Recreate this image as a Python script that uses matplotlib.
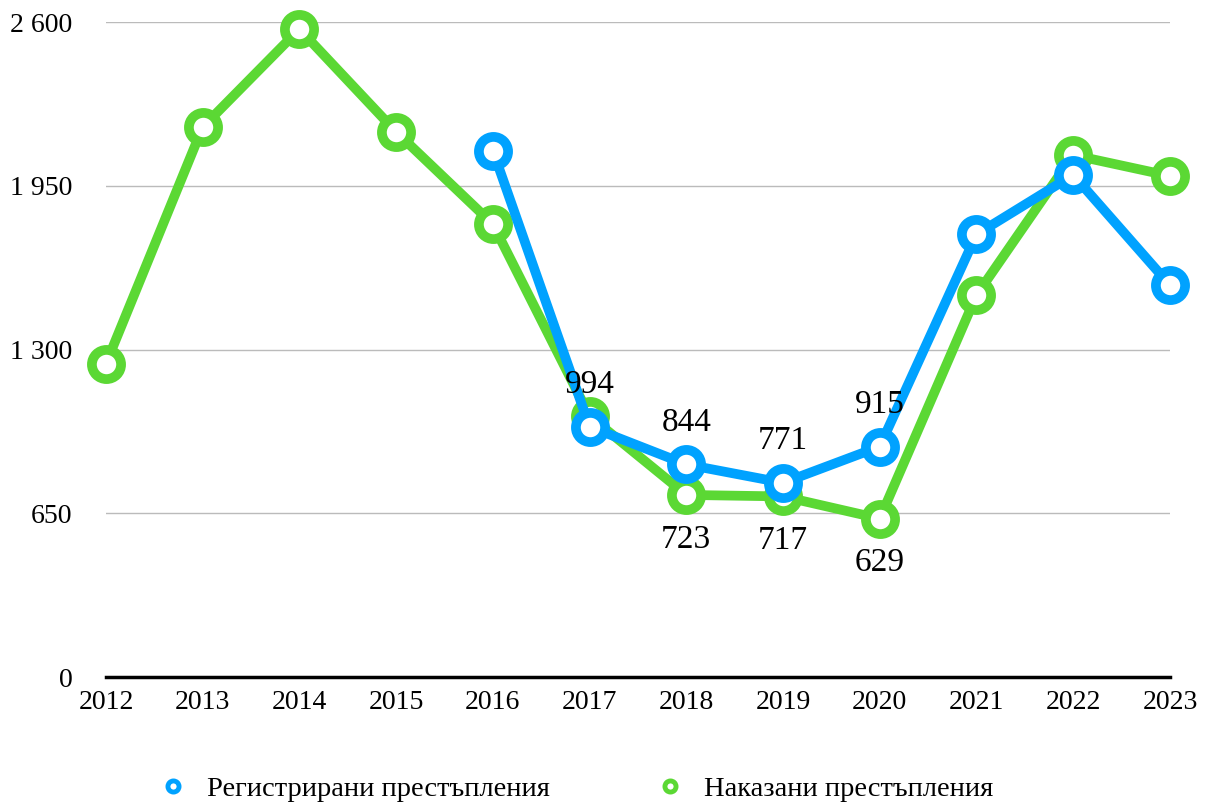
import matplotlib.pyplot as plt
from matplotlib.lines import Line2D

years = [2012, 2013, 2014, 2015, 2016, 2017, 2018, 2019, 2020, 2021, 2022, 2023]
reg_years = [2016, 2017, 2018, 2019, 2020, 2021, 2022, 2023]
registered = [2090, 994, 844, 771, 915, 1757, 1993, 1556]
punished = [1243, 2183, 2572, 2164, 1798, 1036, 723, 717, 629, 1516, 2072, 1989]
reg_label_years = [2017, 2018, 2019, 2020]
pun_label_years = [2018, 2019, 2020]
yticks = [0, 650, 1300, 1950, 2600]

blue = '#00A2FF'
green = '#5BD834'

plt.rcParams['font.family'] = ['Liberation Serif', 'DejaVu Serif']

fig = plt.figure(figsize=(12.08, 8.07), dpi=100)
ax = fig.add_axes([0.0877, 0.161, 0.8808, 0.8117])

style = dict(lw=7, marker='o', ms=21, mew=7, mfc='white', clip_on=False,
             solid_joinstyle='round')
ax.plot(years, punished, color=green, mec=green, zorder=3, **style)
ax.plot(reg_years, registered, color=blue, mec=blue, zorder=4, **style)

# data labels
for x, v in zip(reg_years, registered):
    if x in reg_label_years:
        ax.annotate(str(v), (x, v), xytext=(0, 30), textcoords='offset points',
                    ha='center', va='center', fontsize=24, zorder=5)
for x, v in zip(years, punished):
    if x in pun_label_years:
        ax.annotate(str(v), (x, v), xytext=(0, -32), textcoords='offset points',
                    ha='center', va='center', fontsize=24, zorder=5)

ax.set_xlim(2012, 2023)
ax.set_ylim(0, 2600)
ax.set_yticks(yticks)
ax.set_yticklabels([f'{t:,}'.replace(',', ' ') for t in yticks])
ax.set_xticks(years)
ax.set_xticklabels([str(y) for y in years])
ax.grid(axis='y', color='#BBBBBB', lw=1)
ax.set_axisbelow(True)
for s in ['top', 'right', 'left']:
    ax.spines[s].set_visible(False)
ax.spines['bottom'].set_linewidth(2.5)
ax.spines['bottom'].set_color('black')
ax.tick_params(axis='y', length=0, pad=24, labelsize=20)
ax.tick_params(axis='x', length=0, pad=9, labelsize=20)

handles = [
    Line2D([], [], color=blue, lw=0, marker='o', ms=8, mew=3.5, mfc='white', mec=blue),
    Line2D([], [], color=green, lw=0, marker='o', ms=8, mew=3.5, mfc='white', mec=green),
]
fig.legend(handles, ['Регистрирани престъпления', 'Наказани престъпления'],
           loc='center', bbox_to_anchor=(0.477, 0.022), ncol=2, frameon=False,
           fontsize=20.5, handlelength=1.0, handletextpad=0.7, columnspacing=3.7)

fig.savefig('out.png', dpi=100)
